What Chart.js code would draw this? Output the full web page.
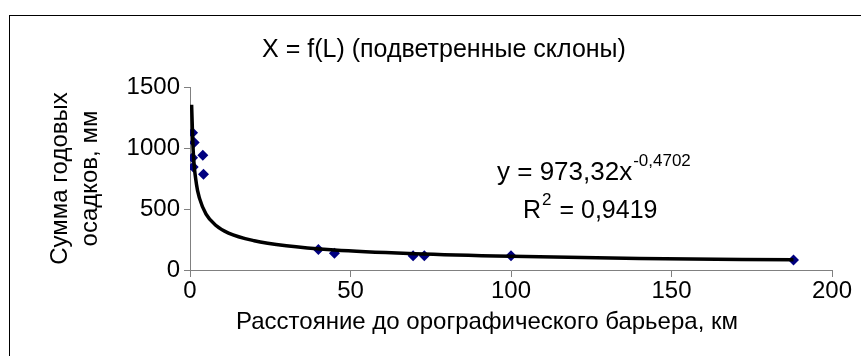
<!DOCTYPE html>
<html>
<head>
<meta charset="utf-8">
<script src="https://cdn.jsdelivr.net/npm/chart.js@4"></script>
<style>
    body { margin: 0; background: #fff; }
    #wrap { position: relative; width: 861px; height: 356px; overflow: hidden; }
    #frame { position: absolute; left: 9px; top: 15px; width: 860px; height: 360px; border-left: 1px solid #000; border-top: 1px solid #000; }
    #chart { position: absolute; left: 0; top: 0; }
</style>
</head>
<body>
<div id="wrap">
    <div id="frame"></div>
    <canvas id="chart" width="861" height="356"></canvas>
</div>
<script>
// точки наблюдений: расстояние до барьера (км) и сумма осадков (мм)
const distKm = [0.8, 1.3, 4, 0.8, 1, 4.2, 40, 45, 69.5, 73, 100, 188];
const precipMm = [1125, 1045, 940, 920, 845, 785, 168, 137, 117, 117, 117, 82];

// линия тренда (степенная)
const trendX = [0.5, 1, 2, 3, 5, 8, 12, 20, 30, 45, 70, 100, 140, 188];
const trendY = [1355, 975, 705, 585, 458, 367, 303, 240, 198, 163, 133, 112, 95, 83];

const xTicks = [0, 50, 100, 150, 200];
const yTicks = [0, 500, 1000, 1500];

const chartTitle = 'X = f(L) (подветренные склоны)';
const xTitle = 'Расстояние до орографического барьера, км';
const yTitle = ['Сумма годовых', 'осадков, мм'];

const FONT = 'Liberation Sans, Arial, sans-serif';

// подписи: заголовок, подпись оси X и уравнение тренда
const textPlugin = {
    id: 'textPlugin',
    afterDraw(chart) {
        const ctx = chart.ctx;
        ctx.save();
        ctx.fillStyle = '#000';
        ctx.textBaseline = 'alphabetic';
        ctx.textAlign = 'left';

        ctx.font = '25px ' + FONT;
        let w = ctx.measureText(chartTitle).width;
        ctx.fillText(chartTitle, 444 - w / 2, 57);

        ctx.font = '24px ' + FONT;
        ctx.textAlign = 'center';
        ctx.textBaseline = 'middle';
        ctx.fillText(xTitle, 487, 322);
        ctx.textAlign = 'left';
        ctx.textBaseline = 'alphabetic';

        // y = 973,32x^-0,4702
        const base = 'y = 973,32x';
        ctx.font = '26px ' + FONT;
        ctx.fillText(base, 497, 180);
        w = ctx.measureText(base).width;
        ctx.font = '17px ' + FONT;
        ctx.fillText('-0,4702', 497 + w + 1, 166);

        // R^2 = 0,9419
        ctx.font = '25px ' + FONT;
        ctx.fillText('R', 523, 218);
        let rw = ctx.measureText('R').width;
        ctx.font = '17px ' + FONT;
        ctx.fillText('2', 523 + rw + 1, 205);
        let sw = ctx.measureText('2').width;
        ctx.font = '25px ' + FONT;
        ctx.fillText(' = 0,9419', 523 + rw + sw + 2, 218);
        ctx.restore();
    }
};

const ctx = document.getElementById('chart').getContext('2d');
new Chart(ctx, {
    type: 'scatter',
    data: {
        datasets: [
            {
                label: 'trend',
                type: 'line',
                data: trendX.map((x, i) => ({ x: x, y: trendY[i] })),
                borderColor: '#000',
                borderWidth: 3.5,
                pointRadius: 0,
                cubicInterpolationMode: 'monotone',
                fill: false,
                order: 0
            },
            {
                label: 'data',
                data: distKm.map((x, i) => ({ x: x, y: precipMm[i] })),
                pointStyle: 'rectRot',
                pointRadius: 5.5,
                backgroundColor: '#000080',
                borderColor: '#000080',
                borderWidth: 0,
                order: 1
            }
        ]
    },
    options: {
        responsive: false,
        animation: false,
        layout: { padding: { left: 0, right: 29, top: 87, bottom: 0 } },
        plugins: { legend: { display: false }, tooltip: { enabled: false } },
        scales: {
            x: {
                type: 'linear',
                min: 0, max: 200,
                afterBuildTicks: s => { s.ticks = xTicks.map(v => ({ value: v })); },
                afterFit: s => { s.height = 86; },
                grid: { drawOnChartArea: false, drawTicks: true, tickLength: 7, color: '#808080' },
                border: { color: '#808080', width: 1 },
                ticks: { color: '#000', padding: 0, callback: v => String(v), font: { family: FONT, size: 24 } },
                title: { display: false }
            },
            y: {
                type: 'linear',
                min: 0, max: 1500,
                afterBuildTicks: s => { s.ticks = yTicks.map(v => ({ value: v })); },
                afterFit: s => { s.width = 190; },
                grid: { drawOnChartArea: false, drawTicks: true, tickLength: 6, color: '#808080' },
                border: { color: '#808080', width: 1 },
                ticks: { color: '#000', padding: 4, callback: v => String(v), font: { family: FONT, size: 24 } },
                title: { display: true, text: yTitle, color: '#000', padding: { top: 45, bottom: 0 }, font: { family: FONT, size: 24, lineHeight: 1.25 } }
            }
        }
    },
    plugins: [textPlugin]
});
</script>
</body>
</html>
